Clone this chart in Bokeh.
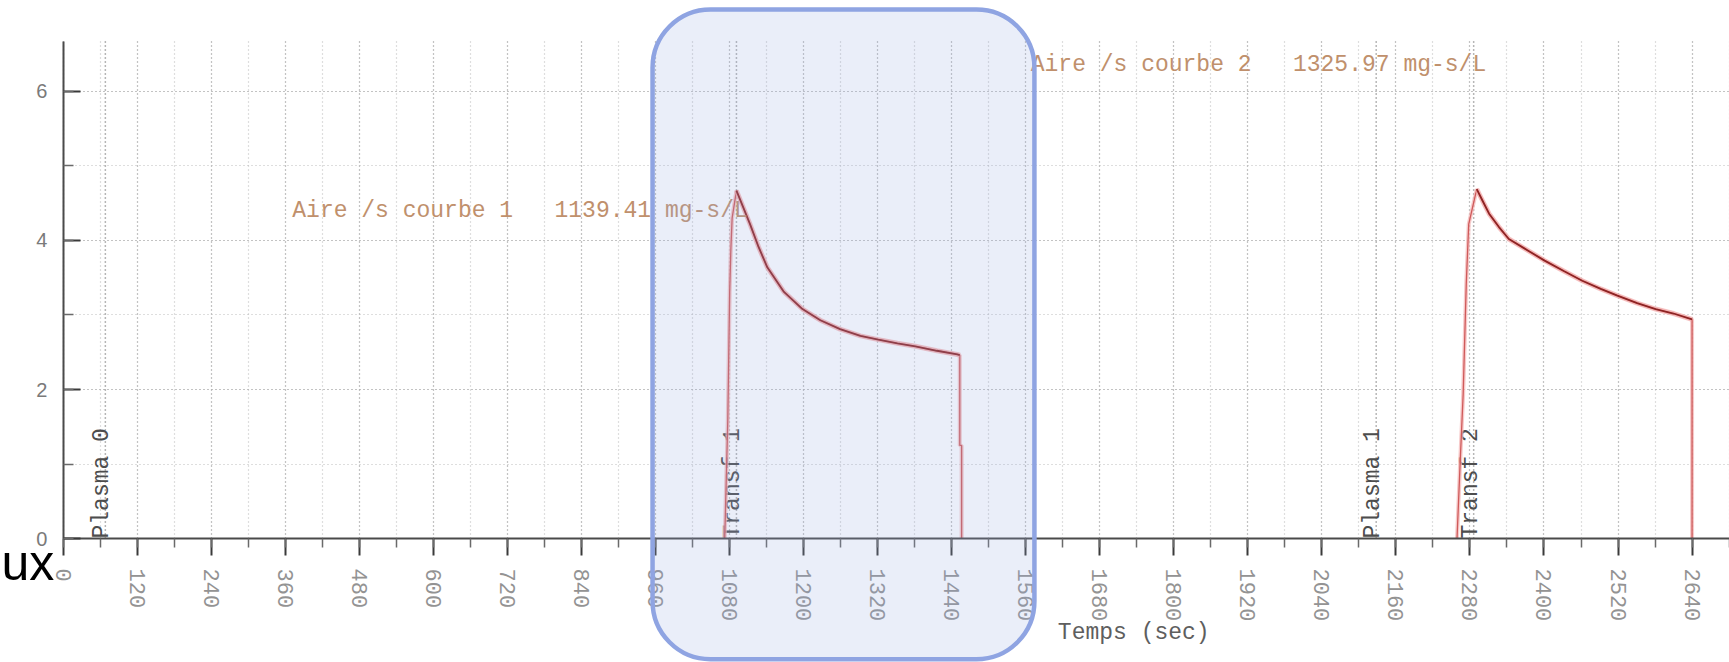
import numpy as np
from bokeh.plotting import figure
from bokeh.models import (Range1d, SingleIntervalTicker, BoxAnnotation, Label,
                          LinearAxis, Grid)
from bokeh.core.properties import value
from bokeh.embed import file_html
from bokeh.resources import INLINE

# ---------------- data ----------------
curve1_time = [1072, 1077, 1080, 1082, 1084, 1091, 1113, 1127, 1141, 1168, 1198, 1227,
               1259, 1292, 1321, 1352, 1381, 1416, 1449, 1453, 1453, 1456, 1456]
curve1_conc = [0.0, 1.6, 3.3, 3.9, 4.3, 4.67, 4.22, 3.91, 3.64, 3.31, 3.08, 2.93,
               2.81, 2.72, 2.67, 2.62, 2.58, 2.52, 2.47, 2.46, 1.25, 1.25, 0.0]

curve2_time = [2259, 2264, 2269, 2274, 2278, 2291, 2300, 2311, 2327, 2343, 2373, 2401,
               2432, 2462, 2492, 2519, 2551, 2581, 2610, 2640, 2640]
curve2_conc = [0.0, 1.0, 1.94, 3.42, 4.22, 4.69, 4.54, 4.36, 4.18, 4.02, 3.87, 3.73,
               3.59, 3.46, 3.35, 3.26, 3.16, 3.08, 3.02, 2.94, 0.0]

event_time = [68, 1091, 2128, 2286]
event_label = ["Plasma 0", "Transf 1", "Plasma 1", "Transf 2"]

area_text = ["Aire /s courbe 1   1139.41 mg-s/L", "Aire /s courbe 2   1325.97 mg-s/L"]
area_time = [371, 1568]
area_conc = [4.40, 6.35]

x_title = "Temps (sec)"
cut_text = "ux"

# plotting area extent (data units)
T_MAX = 2701
C_MAX = 6.67

MONO = "Liberation Mono"


def decay_part(t, c):
    t = np.asarray(t, float)
    c = np.asarray(c, float)
    ip = int(np.argmax(c))
    ie = ip
    while ie + 1 < len(c) and c[ie] - c[ie + 1] < 0.5:
        ie += 1
    return t[ip:ie + 1], c[ip:ie + 1]


def keep_spaces(s):
    return s.replace("  ", "\u00a0\u00a0")


X0, X1 = -101.96, 2700.7
Y0, Y1 = -1.664, 7.221

# the frame covers the whole canvas; axes are pinned at 0 with fixed_location
p = figure(width=1729, height=662,
           x_range=Range1d(X0, X1), y_range=Range1d(Y0, Y1),
           x_axis_type=None, y_axis_type=None,
           output_backend="svg", toolbar_location=None,
           min_border_left=0, min_border_right=0,
           min_border_top=0, min_border_bottom=0)
p.outline_line_color = None
p.background_fill_color = "white"
p.border_fill_color = "white"

xt = SingleIntervalTicker(interval=120, num_minor_ticks=2)
yt = SingleIntervalTicker(interval=2, num_minor_ticks=2)

grid_style = dict(grid_line_color="#a8a8a8", grid_line_dash="1 3", grid_line_width=1.2,
                  minor_grid_line_color="#bdbdbd", minor_grid_line_dash="1 3",
                  minor_grid_line_width=1.2)
try:
    xgrid = Grid(dimension=0, ticker=xt, bounds=(0, T_MAX), cross_bounds=(0, C_MAX), **grid_style)
    ygrid = Grid(dimension=1, ticker=yt, bounds=(0, C_MAX), cross_bounds=(0, T_MAX), **grid_style)
except Exception:
    xgrid = Grid(dimension=0, ticker=xt, bounds=(0, T_MAX), **grid_style)
    ygrid = Grid(dimension=1, ticker=yt, bounds=(0, C_MAX), **grid_style)
p.add_layout(xgrid)
p.add_layout(ygrid)

axis_style = dict(axis_line_color="#4a4a4a", axis_line_width=2,
                  major_tick_line_color="#3a3a3a", major_tick_line_width=2,
                  minor_tick_line_color="#6a6a6a", minor_tick_line_width=1.5)

xaxis = LinearAxis(ticker=xt, fixed_location=0, bounds=(0, T_MAX),
                   major_tick_in=0, major_tick_out=17, minor_tick_in=0, minor_tick_out=9,
                   major_label_orientation="vertical", major_label_standoff=13,
                   major_label_text_font=MONO, major_label_text_font_size="22px",
                   major_label_text_color="#939393", **axis_style)
yaxis = LinearAxis(ticker=yt, fixed_location=0, bounds=(0, C_MAX),
                   major_tick_in=17, major_tick_out=0, minor_tick_in=10, minor_tick_out=0,
                   major_label_standoff=16, major_label_text_font="Liberation Sans",
                   major_label_text_font_size="20px", major_label_text_color="#7a7a7a",
                   **axis_style)
p.add_layout(xaxis, "below")
p.add_layout(yaxis, "left")

# event markers
p.segment(x0=event_time, y0=0, x1=event_time, y1=C_MAX,
          line_color="#6f6f6f", line_dash="1 3", line_width=1.5)
p.text(x=event_time, y=[0] * len(event_time), text=event_label, angle=np.pi / 2,
       x_offset=-3, text_align="left", text_baseline="alphabetic",
       text_font=value(MONO), text_font_size="23px", text_color="#4d4d4d")

# curves
for t, c in ((curve1_time, curve1_conc), (curve2_time, curve2_conc)):
    p.line(t, c, line_color="#f3b3b3", line_width=4, line_alpha=0.7)
    p.line(t, c, line_color="#cf5a5a", line_width=1.3)
    dt, dc = decay_part(t, c)
    p.line(dt, dc, line_color="#f2a8a8", line_width=5, line_alpha=0.6)
    p.line(dt, dc, line_color="#8e2424", line_width=1.8)

# area texts
p.text(x=area_time, y=area_conc, text=[keep_spaces(s) for s in area_text],
       text_align="left", text_baseline="middle", text_font=value(MONO),
       text_font_size="23px", text_color="#c0906c")

p.add_layout(Label(x=1735, y=-1.27, text=x_title, text_align="center",
                   text_baseline="middle", text_font=MONO, text_font_size="23px",
                   text_color="#5e5e5e"))
p.add_layout(Label(x=X0, y=-0.33, x_offset=1, text=cut_text, text_align="left",
                   text_baseline="alphabetic", text_font="Liberation Sans",
                   text_font_size="50px", text_color="black"))

# highlight box
p.add_layout(BoxAnnotation(left=955, right=1574, top=7.1, bottom=-1.62,
                           fill_color="#94a9e3", fill_alpha=0.2,
                           line_color="#8fa4e2", line_width=4.5, line_alpha=1.0,
                           border_radius=58))

open("out.html", "w").write(file_html(p, INLINE))
